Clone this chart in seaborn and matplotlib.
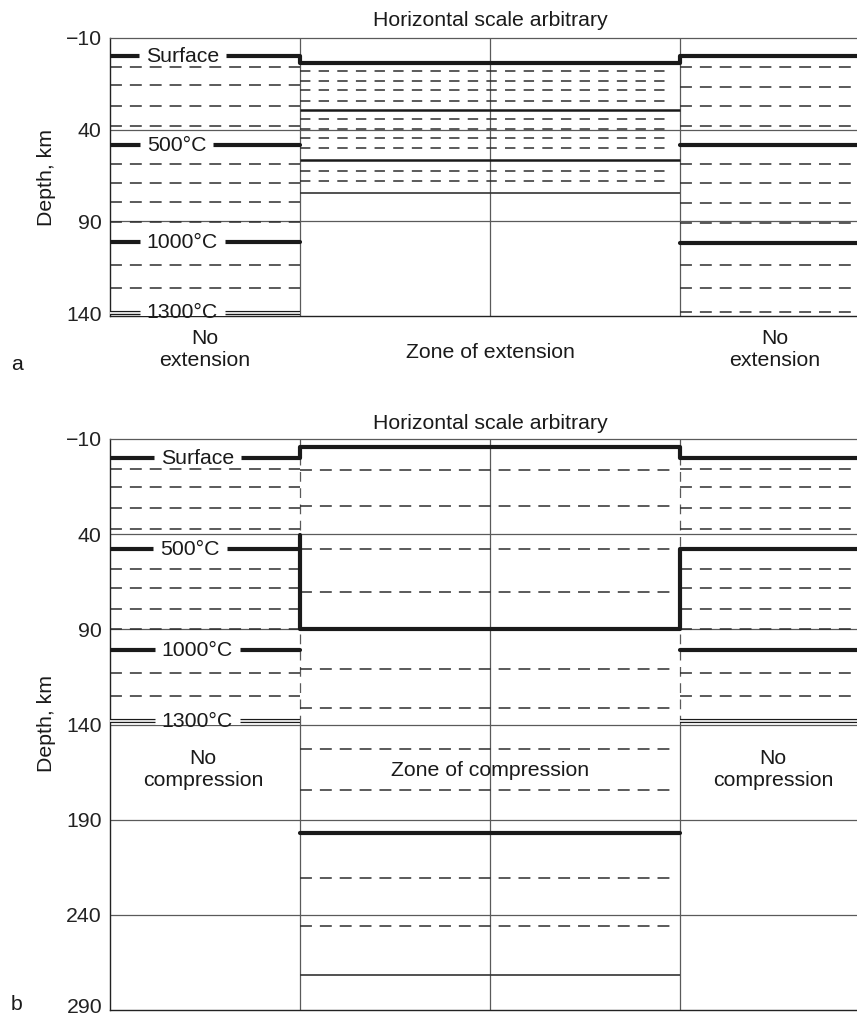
import numpy as np
import pandas as pd
import matplotlib
matplotlib.use("Agg")
import matplotlib.pyplot as plt
import matplotlib.transforms as mtransforms
import seaborn as sns

# ---------------- data ----------------
temps = [0, 100, 200, 300, 400, 500, 600, 700, 800, 900, 1000, 1100, 1200, 1300]

# panel a (extension): depth (km) of each isotherm
ext_left = [0, 6, 15.5, 27, 38, 48.5, 58.7, 69, 79.5, 90.5, 101.5, 114, 126.3, 139.8]
ext_right = [0, 6, 16.5, 27.3, 38.2, 48.5, 58.7, 69.3, 79.8, 90.7, 101.6, 114, 126.5, 139.5]
ext_zone = [3.7, 7.9, 13.4, 18.6, 24.1, 29.1, 34.0, 39.5, 44.5, 50.0, 56.3, 62.6, 68.0, 74.4]
ext_yticks = [-10, 40, 90, 140]

# panel b (compression)
comp_left = [0, 6, 15.4, 26.1, 37.3, 47.8, 58.1, 68.3, 79.2, 89.7, 100.9, 112.8, 124.9, 138.2]
comp_right = [0, 6, 15.4, 26.1, 37.3, 47.8, 58.1, 68.3, 79.2, 89.7, 100.9, 112.8, 124.9, 138.2]
comp_zone = [-6, 6.3, 25.0, 47.8, 70.4, 89.7, 111.0, 131.5, 153.0, 174.4, 197.0, 220.7, 245.8, 271.5]
comp_yticks = [-10, 40, 90, 140, 190, 240, 290]
comp_step_top = 40.5   # top of the thick left-side step of the 500°C isotherm

col_edges = [0, 1, 2, 3, 4]   # outer column | zone (two halves) | outer column

# ---------------- style ----------------
sns.set_theme(style="white")
plt.rcParams["font.family"] = ["Liberation Sans", "DejaVu Sans"]
FS = 15.3
INK = "#1a1a1a"
GRID = "#5a5a5a"
DASH = "#2e2e2e"

W, H = 857, 1016
fig = plt.figure(figsize=(W / 100, H / 100), dpi=100)


def px_axes(left, top, right, bottom):
    return fig.add_axes([left / W, 1 - bottom / H, (right - left) / W, (bottom - top) / H])


ax_a = px_axes(110, 38, 870, 316)
ax_b = px_axes(110, 439, 870, 1010)

THICK = {0, 500, 1000}


def fmt(t):
    return f"{t}".replace("-", "\u2212")


def base_axes(ax, ylim, yticks, grid_rows, skip_last=False):
    ax.set_xlim(col_edges[0], col_edges[-1])
    ax.set_ylim(*ylim)
    ax.set_yticks(yticks)
    labels = [fmt(t) for t in yticks]
    if skip_last:
        labels[-1] = ""
    ax.set_yticklabels(labels)
    ax.set_xticks([])
    ax.tick_params(axis="y", length=0, pad=6, labelsize=FS, colors="#222222")
    ax.spines["top"].set_color(GRID)
    ax.spines["top"].set_linewidth(0.9)
    for s in ["left", "bottom"]:
        ax.spines[s].set_color("#222222")
        ax.spines[s].set_linewidth(1.0)
    ax.spines["right"].set_visible(False)
    for g in grid_rows:
        ax.axhline(g, color=GRID, lw=0.9, zorder=1)


def dashed(ax, y, x0, x1, dashes=(7.8, 5.2), lw=1.1):
    ax.hlines(y, x0, x1, colors=DASH, lw=lw, linestyles=[(0, dashes)], zorder=2)


def double(ax, y, x0, x1):
    ax.hlines(y, x0, x1, colors=INK, lw=3.0, zorder=3)
    ax.hlines(y, x0, x1, colors="white", lw=1.2, zorder=3.5)


def thick_paths(ax, paths, lw=3.0):
    rows = []
    for pid, (xs, ys) in enumerate(paths):
        for k, (x, y) in enumerate(zip(xs, ys)):
            rows.append({"path": pid, "order": k, "x": x, "depth": y})
    df = pd.DataFrame(rows)
    sns.lineplot(data=df, x="x", y="depth", units="path", estimator=None, sort=False,
                 color=INK, lw=lw, ax=ax, zorder=4, legend=False)
    ax.set_xlabel("")
    ax.set_ylabel("")


pending_labels = []


def label(ax, x, y, txt):
    t = ax.text(x, y, txt, ha="center", va="center", fontsize=FS, color=INK, zorder=6)
    pending_labels.append((ax, t, y))


# ================= panel a =================
ax = ax_a
base_axes(ax, (141.6, -10), ext_yticks, [40, 90])
for xv in col_edges[1:4]:
    ax.axvline(xv, color=GRID, lw=0.9, zorder=1)

for t, yl, yr in zip(temps, ext_left, ext_right):
    if t in THICK:
        continue
    if t == 1300:
        double(ax, yl, 0, 1)
        dashed(ax, yr, 3, 4)
    else:
        dashed(ax, yl, 0, 1)
        dashed(ax, yr, 3, 4)
for t, yz in zip(temps, ext_zone):
    if t == 0:
        continue
    if t in (500, 1000):
        ax.hlines(yz, 1, 3, colors=INK, lw=1.8, zorder=3)
    elif t == 1300:
        ax.hlines(yz, 1, 3, colors="#333333", lw=1.2, zorder=3)
    else:
        dashed(ax, yz, 1, 2.96, dashes=(6.8, 5.4))

paths = [
    ([0, 1, 1, 3, 3, 4], [ext_left[0], ext_left[0], ext_zone[0], ext_zone[0], ext_right[0], ext_right[0]]),
]
for t in (500, 1000):
    i = temps.index(t)
    paths.append(([0, 1], [ext_left[i], ext_left[i]]))
    paths.append(([3, 4], [ext_right[i], ext_right[i]]))
thick_paths(ax, paths)

label(ax, 0.38, ext_left[0], "Surface")
label(ax, 0.35, ext_left[5], "500°C")
label(ax, 0.38, ext_left[10], "1000°C")
label(ax, 0.38, ext_left[13], "1300°C")

ax.text(2, -19.8, "Horizontal scale arbitrary", ha="center", va="center", fontsize=FS, color=INK,
        clip_on=False)
ax.text(0.5, 160, "No\nextension", ha="center", va="center", fontsize=FS, color=INK,
        linespacing=1.2, clip_on=False)
ax.text(2, 161.3, "Zone of extension", ha="center", va="center", fontsize=FS, color=INK, clip_on=False)
ax.text(3.5, 160, "No\nextension", ha="center", va="center", fontsize=FS, color=INK,
        linespacing=1.2, clip_on=False)

# ================= panel b =================
ax = ax_b
base_axes(ax, (290, -10), comp_yticks, [40, 90, 140, 190, 240], skip_last=True)
ax.axvline(2, color=GRID, lw=0.9, zorder=1)
for xv in (1, 3):
    ax.vlines(xv, 140, 290, colors=GRID, lw=0.9, zorder=1)
    ax.vlines(xv, -10, 140, colors=GRID, lw=0.9, linestyles=[(0, (7.8, 5.2))], zorder=1)

for t, yl, yr in zip(temps, comp_left, comp_right):
    if t in THICK:
        continue
    if t == 1300:
        double(ax, yl, 0, 1)
        double(ax, yr, 3, 4)
    else:
        dashed(ax, yl, 0, 1)
        dashed(ax, yr, 3, 4)
for t, yz in zip(temps, comp_zone):
    if t in (0, 500, 1000):
        continue
    if t == 1300:
        ax.hlines(yz, 1, 3, colors="#333333", lw=1.2, zorder=3)
    else:
        dashed(ax, yz, 1, 2.96)

i5, i10 = temps.index(500), temps.index(1000)
paths = [
    ([0, 1, 1, 3, 3, 4], [comp_left[0], comp_left[0], comp_zone[0], comp_zone[0], comp_right[0], comp_right[0]]),
    ([0, 1], [comp_left[i5], comp_left[i5]]),
    ([1, 1, 3, 3, 4], [comp_step_top, comp_zone[i5], comp_zone[i5], comp_right[i5], comp_right[i5]]),
    ([0, 1], [comp_left[i10], comp_left[i10]]),
    ([3, 4], [comp_right[i10], comp_right[i10]]),
    ([1, 3], [comp_zone[i10], comp_zone[i10]]),
]
thick_paths(ax, paths)

label(ax, 0.46, comp_left[0], "Surface")
label(ax, 0.42, comp_left[5], "500°C")
label(ax, 0.46, comp_left[10], "1000°C")
label(ax, 0.46, comp_left[13], "1300°C")

ax.text(2, -18.4, "Horizontal scale arbitrary", ha="center", va="center", fontsize=FS, color=INK,
        clip_on=False)
ax.text(0.49, 163.4, "No\ncompression", ha="center", va="center", fontsize=FS, color=INK,
        linespacing=1.2, zorder=6)
ax.text(2, 164, "Zone of compression", ha="center", va="center", fontsize=FS, color=INK, zorder=6)
ax.text(3.49, 163.4, "No\ncompression", ha="center", va="center", fontsize=FS, color=INK,
        linespacing=1.2, zorder=6)

# bottom tick label of panel b, nudged so it stays inside the figure
trans = mtransforms.blended_transform_factory(ax.transAxes, ax.transData) + \
    mtransforms.ScaledTranslation(-8 / 100, -3 / 100, fig.dpi_scale_trans)
ax.text(0, comp_yticks[-1], fmt(comp_yticks[-1]), transform=trans, ha="right", va="baseline",
        fontsize=FS, color="#222222", clip_on=False)

# axis labels and panel letters
fig.text(47 / W, 1 - 177 / H, "Depth, km", rotation=90, ha="center", va="center", fontsize=FS, color=INK)
fig.text(47 / W, 1 - 724 / H, "Depth, km", rotation=90, ha="center", va="center", fontsize=FS, color=INK)
fig.text(17 / W, 1 - 365 / H, "a", ha="center", va="center", fontsize=FS, color=INK)
fig.text(17 / W, 1 - 1004 / H, "b", ha="center", va="center", fontsize=FS, color=INK)

# white gaps in the isotherm lines behind their labels
fig.canvas.draw()
renderer = fig.canvas.get_renderer()
for ax, t, y in pending_labels:
    bb = t.get_window_extent(renderer)
    inv = ax.transData.inverted()
    x0 = inv.transform((bb.x0 - 7, 0))[0]
    x1 = inv.transform((bb.x1 + 7, 0))[0]
    ax.hlines(y, x0, x1, colors="white", lw=5.0, zorder=5)

fig.savefig("out.png", dpi=100, facecolor="white")
